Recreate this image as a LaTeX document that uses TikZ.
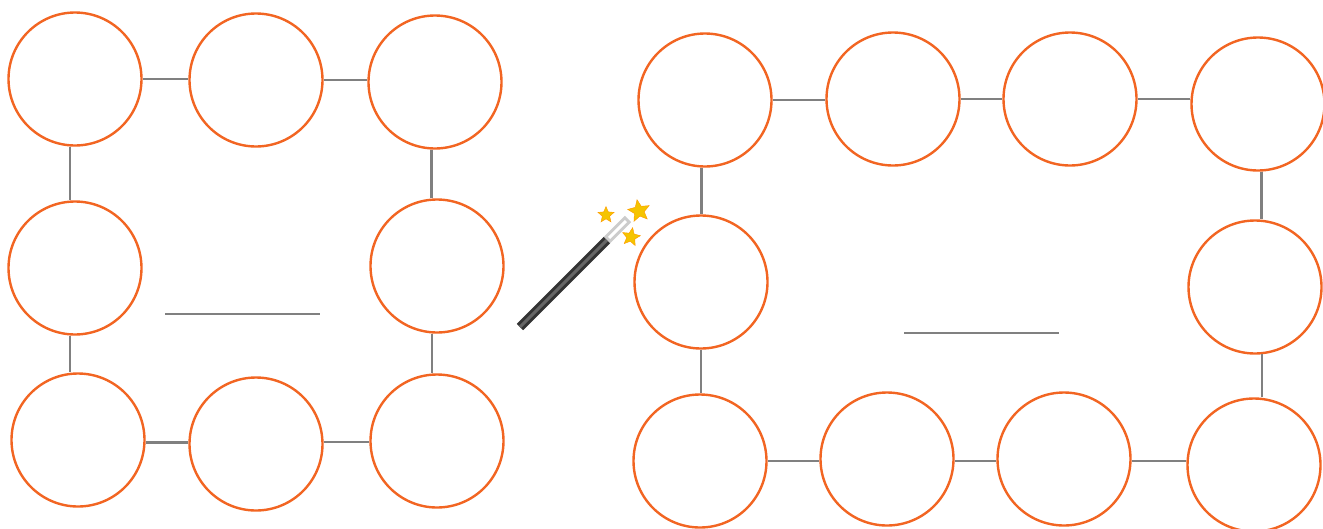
\documentclass[tikz,border=0pt]{standalone}
\usetikzlibrary{shapes.geometric,calc}
\definecolor{ring}{HTML}{F26522}
\definecolor{link}{HTML}{808080}
\definecolor{wandc}{HTML}{333333}
\definecolor{starc}{HTML}{F5C400}
\begin{document}
\begin{tikzpicture}[x=1pt,y=-1pt,
  ringnode/.style={circle,draw=ring,line width=2.4pt,minimum size=133pt,inner sep=0pt,fill=white},
  linkline/.style={draw=link,line width=2.3pt},
  starnode/.style={star,star points=5,star point ratio=2.2,fill=starc,draw=orange!80!yellow,line width=0.4pt,inner sep=0pt}]
\useasboundingbox (0,0) rectangle (1323,528);
% left group
\node[ringnode] (a1) at (75,79) {};
\node[ringnode] (a2) at (256,80) {};
\node[ringnode] (a3) at (435,82) {};
\node[ringnode] (a4) at (75,268) {};
\node[ringnode] (a5) at (437,266) {};
\node[ringnode] (a6) at (78,440) {};
\node[ringnode] (a7) at (256,444) {};
\node[ringnode] (a8) at (437,441) {};
\draw[linkline] (a1.east) -- (a1.east -| a2.west);
\draw[linkline] (a2.east) -- (a2.east -| a3.west);
\draw[linkline] (a1.-94) -- (a1.-94 |- a4.north);
\draw[linkline] (a3.-93) -- (a3.-93 |- a5.north);
\draw[linkline] (a4.-94) -- (a4.-94 |- a6.north);
\draw[linkline] (a5.-94) -- (a5.-94 |- a8.north);
\draw[linkline] (a6.-2) -- (a6.-2 -| a7.west);
\draw[linkline] (a8.181 -| a7.east) -- (a8.181);
\coordinate (m1) at (165,314);
\coordinate (m2) at (320,314);
\draw[linkline] (m1) -- (m2);
% right group
\node[ringnode] (b1) at (705,100) {};
\node[ringnode] (b2) at (893,99) {};
\node[ringnode] (b3) at (1070,99) {};
\node[ringnode] (b4) at (1258,104) {};
\node[ringnode] (b5) at (701,282) {};
\node[ringnode] (b6) at (1255,287) {};
\node[ringnode] (b7) at (700,461) {};
\node[ringnode] (b8) at (887,459) {};
\node[ringnode] (b9) at (1064,459) {};
\node[ringnode] (b10) at (1254,465) {};
\draw[linkline] (b1.east) -- (b1.east -| b2.west);
\draw[linkline] (b2.east) -- (b2.east -| b3.west);
\draw[linkline] (b3.east) -- (b3.east -| b4.west);
\draw[linkline] (b1.-93) -- (b1.-93 |- b5.north);
\draw[linkline] (b4.-87) -- (b4.-87 |- b6.north);
\draw[linkline] (b5.south) -- (b5.south |- b7.north);
\draw[linkline] (b6.-84) -- (b6.-84 |- b10.north);
\draw[linkline] (b7.east) -- (b7.east -| b8.west);
\draw[linkline] (b7.east -| b8.east) -- (b7.east -| b9.west);
\draw[linkline] (b7.east -| b9.east) -- (b7.east -| b10.west);
\coordinate (n1) at (904,333);
\coordinate (n2) at (1059,333);
\draw[linkline] (n1) -- (n2);
% wand
\coordinate (w0) at (520,327);
\coordinate (w1) at (607,240);
\coordinate (w2) at (628,219);
\draw[line width=9pt,wandc] (w0) -- (w1);
\draw[line width=3pt,wandc!75!white] (w0) -- (w1);
\draw[line width=9pt,gray!40] (w1) -- (w2);
\draw[line width=3pt,white] ($(w1)!0.1!(w2)$) -- ($(w1)!0.9!(w2)$);
\node[starnode,minimum size=17pt] (s1) at (606,215) {};
\node[starnode,minimum size=23pt,rotate=10] (s2) at (639,211) {};
\node[starnode,minimum size=19pt,rotate=-10] (s3) at (631,237) {};
\end{tikzpicture}
\end{document}
